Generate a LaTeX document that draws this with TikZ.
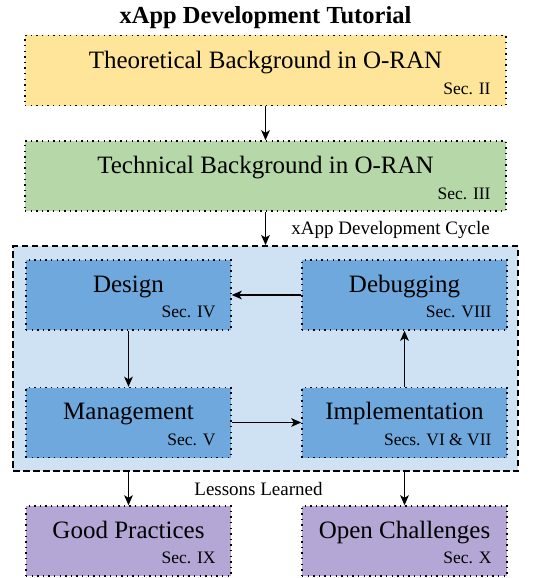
\documentclass[tikz,border=0pt]{standalone}
\usepackage{fontspec}
\setmainfont{Liberation Serif}
\usetikzlibrary{arrows.meta,calc}
\definecolor{cyellow}{HTML}{FFE599}
\definecolor{cgreen}{HTML}{B6D7A8}
\definecolor{ccycle}{HTML}{CFE2F3}
\definecolor{cblue}{HTML}{6FA8DC}
\definecolor{cpurple}{HTML}{B4A7D6}
\tikzset{
  boxbase/.style={draw=black, line width=1.4pt, dash pattern=on 1.4pt off 4.2pt, minimum height=70pt, inner sep=0pt},
  widebox/.style={boxbase, minimum width=481pt},
  smallbox/.style={boxbase, minimum width=205pt},
  maintext/.style={anchor=base, inner sep=0pt, font=\fontsize{25}{30}\selectfont},
  sectext/.style={anchor=base east, inner sep=0pt, font=\fontsize{17.5}{20}\selectfont},
  notetext/.style={inner sep=0pt, font=\fontsize{19}{22}\selectfont},
  conn/.style={-{Stealth[length=10pt,width=8.5pt,inset=2.5pt]}, line width=1.9pt},
}
\begin{document}
\begin{tikzpicture}[x=1pt,y=-1pt]
\useasboundingbox (0,0) rectangle (551,578);
% title
\node[anchor=base, inner sep=0pt, font=\fontsize{24.5}{28}\selectfont\bfseries] (title) at (265.5,24) {xApp Development Tutorial};
% theoretical
\node[widebox, fill=cyellow] (theo) at (265.5,70.5) {};
\node[maintext] (theot) at ($(theo.north)+(0,34)$) {Theoretical Background in O-RAN};
\node[sectext] (theos) at ($(theo.south east)+(-16,-12)$) {Sec. II};
% technical
\node[widebox, fill=cgreen] (tech) at (265.5,176) {};
\node[maintext] (techt) at ($(tech.north)+(0,33.5)$) {Technical Background in O-RAN};
\node[sectext] (techs) at ($(tech.south east)+(-16,-12.5)$) {Sec. III};
% cycle container
\node[draw=black, line width=1.8pt, fill=ccycle, minimum width=505pt, minimum height=225pt, inner sep=0pt, dash pattern=on 6.5pt off 3.5pt] (cycle) at (265.5,358.5) {};
\node[notetext, anchor=base east] (cyclelbl) at (490,234) {xApp Development Cycle};
% inner boxes
\node[smallbox, fill=cblue] (design) at (128.5,295) {};
\node[maintext] (designt) at ($(design.north)+(0,33)$) {Design};
\node[sectext] (designs) at ($(design.south east)+(-16,-13)$) {Sec. IV};
\node[smallbox, fill=cblue] (debug) at (404.5,295) {};
\node[maintext] (debugt) at ($(debug.north)+(0,33)$) {Debugging};
\node[sectext] (debugs) at ($(debug.south east)+(-16,-13)$) {Sec. VIII};
\node[smallbox, fill=cblue] (mgmt) at (128.5,422.5) {};
\node[maintext] (mgmtt) at ($(mgmt.north)+(0,33)$) {Management};
\node[sectext] (mgmts) at ($(mgmt.south east)+(-16,-13)$) {Sec. V};
\node[smallbox, fill=cblue] (impl) at (404.5,422.5) {};
\node[maintext] (implt) at ($(impl.north)+(0,33)$) {Implementation};
\node[sectext] (impls) at ($(impl.south east)+(-16,-13)$) {Secs. VI \& VII};
% bottom boxes
\node[smallbox, fill=cpurple] (good) at (128.5,541) {};
\node[maintext] (goodt) at ($(good.north)+(0,33)$) {Good Practices};
\node[sectext] (goods) at ($(good.south east)+(-16,-13)$) {Sec. IX};
\node[smallbox, fill=cpurple] (open) at (404.5,541) {};
\node[maintext] (opent) at ($(open.north)+(0,33)$) {Open Challenges};
\node[sectext] (opens) at ($(open.south east)+(-16,-13)$) {Sec. X};
\node[notetext, anchor=base] (lessons) at (258.5,495) {Lessons Learned};
% connectors
\draw[conn] (theo.south) -- (tech.north);
\draw[conn] (tech.south) -- (cycle.north);
\draw[conn] (debug.west) -- (design.east);
\draw[conn] (design.south) -- (mgmt.north);
\draw[conn] (mgmt.east) -- (impl.west);
\draw[conn] (impl.north) -- (debug.south);
\draw[conn] (cycle.south -| good.north) -- (good.north);
\draw[conn] (cycle.south -| open.north) -- (open.north);
\end{tikzpicture}
\end{document}
